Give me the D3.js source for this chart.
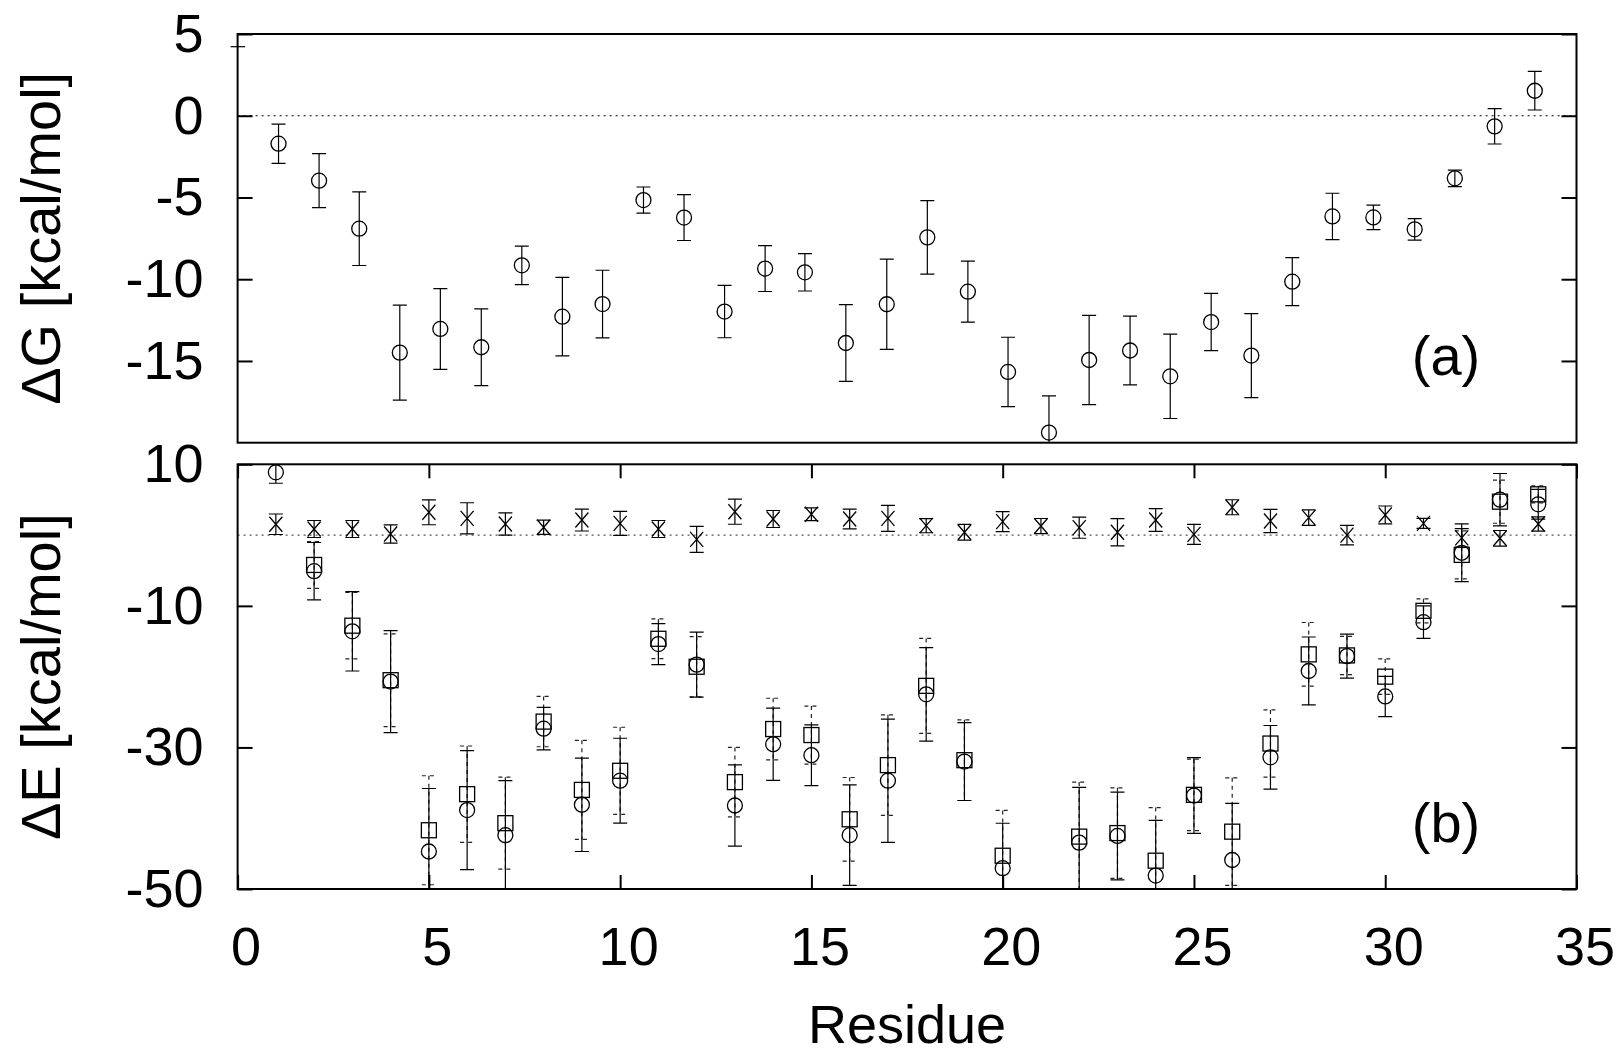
<!DOCTYPE html>
<html>
<head>
<meta charset="utf-8">
<script src="https://cdn.jsdelivr.net/npm/d3@7"></script>
<style>
	body { margin: 0; background: #fff }
	svg { display: block; font-family: 'Liberation Sans', Arial, sans-serif }
</style>
</head>
<body>
<svg id="fig" width="1621" height="1056"></svg>
<script>
// panel (a): dG per residue (x, points are not on integer residues)
const gX = [1.07, 2.13, 3.18, 4.24, 5.30, 6.37, 7.43, 8.49, 9.54, 10.61, 11.67, 12.73, 13.79, 14.83, 15.90, 16.97,
	18.03, 19.09, 20.14, 21.21, 22.26, 23.33, 24.38, 25.45, 26.50, 27.57, 28.62, 29.69, 30.77, 31.82, 32.86, 33.91]
const gVal = [-1.71, -3.97, -6.91, -14.49, -13.04, -14.16, -9.15, -12.29, -11.52, -5.16, -6.23, -11.98, -9.35, -9.58, -13.90, -11.53,
	-7.44, -10.76, -15.67, -19.38, -14.94, -14.36, -15.94, -12.62, -14.67, -10.15, -6.16, -6.22, -6.95, -3.83, -0.65, 1.53]
const gErr = [1.2, 1.65, 2.25, 2.9, 2.47, 2.35, 1.18, 2.4, 2.07, 0.8, 1.4, 1.6, 1.4, 1.14, 2.35, 2.76,
	2.25, 1.87, 2.12, 2.25, 2.73, 2.1, 2.58, 1.75, 2.57, 1.47, 1.42, 0.75, 0.66, 0.5, 1.08, 1.18]

// panel (b): dE per residue, null = no point
const eRes = d3.range(1, 35)
const circVal = [8.87, -5.1, -13.6, -20.7, -44.7, -38.85, -42.4, -27.35, -38.1, -34.7, -15.4, -18.3, -38.2, -29.55, -31.1, -42.4, -34.7,
	-22.5, -32.0, -47.06, null, -43.45, -42.5, -48.1, -36.8, -45.9, -31.4, -19.2, -17.1, -22.8, -12.3, -2.5, 5.0, 4.35]
const circErr = [1.55, 4.05, 5.6, 7.2, 8.9, 8.4, 7.7, 3.0, 6.6, 6.0, 2.9, 4.6, 5.75, 5.1, 4.3, 7.1, 8.7,
	6.6, 5.5, 6.35, null, 7.8, 6.2, 7.8, 5.35, 8.0, 4.5, 4.8, 3.1, 2.85, 2.3, 4.07, 3.7, 2.1]
const sqVal = [null, -4.22, -12.8, -20.5, -41.7, -36.6, -40.7, -26.35, -36.0, -33.3, -14.65, -18.6, -34.9, -27.4, -28.25, -40.15, -32.5,
	-21.3, -31.8, -45.3, null, -42.6, -42.1, -46.0, -36.7, -41.9, -29.45, -16.85, -17.0, -20.0, -10.7, -2.8, 4.72, 5.76]
const sqErr = [null, 3.3, 4.7, 6.55, 7.7, 6.8, 6.5, 3.55, 7.0, 6.15, 2.8, 4.25, 4.9, 4.35, 4.1, 5.9, 7.1,
	6.7, 5.7, 6.4, null, 7.7, 6.4, 7.5, 5.05, 7.6, 4.75, 4.5, 2.7, 2.5, 1.7, 3.4, 3.05, 1.2]
const crossVal = [1.53, 0.86, 0.86, 0.15, 3.22, 2.37, 1.57, 1.1, 2.13, 1.66, 0.86, -0.6, 3.3, 2.27, 2.94, 2.27, 2.37,
	1.33, 0.4, 1.9, 1.28, 1.05, 0.4, 2.13, 0.1, 3.93, 1.99, 2.46, 0.0, 2.84, 1.66, -0.4, -0.45, 1.57]
const crossErr = [1.45, 1.2, 1.2, 1.3, 1.76, 2.2, 1.58, 1.0, 1.55, 1.7, 1.2, 1.83, 1.77, 1.2, 0.9, 1.4, 1.84,
	1.0, 1.1, 1.4, 1.06, 1.5, 1.93, 1.6, 1.4, 1.06, 1.65, 1.1, 1.37, 1.27, 0.7, 1.3, 1.1, 1.0]

const xTicks = [0, 5, 10, 15, 20, 25, 30, 35]
const gTicks = [5, 0, -5, -10, -15]
const eTicks = [10, -10, -30, -50]

const svg = d3.select('#fig')
const FS = 54
const plain = d => String(d) // keep the ascii hyphen like the original, not d3's unicode minus

const L = 237.6, R = 1576.5
const x = d3.scaleLinear([0, 35], [L, R])
const ya = d3.scaleLinear([-20, 5], [442.7, 34])
const yb = d3.scaleLinear([-50, 10], [889, 464.3])

// clip paths so bars stop at the frame
const defs = svg.append('defs')
const clip = (id, y) => defs.append('clipPath').attr('id', id)
	.append('rect').attr('x', L).attr('y', y.range()[1]).attr('width', R - L).attr('height', y.range()[0] - y.range()[1])
clip('ca', ya)
clip('cb', yb)

const zipPts = (xs, vs, es) => xs.map((xx, i) => ({ x: xx, v: vs[i], e: es[i] })).filter(d => d.v !== null)

function errbars(g, pts, y, style) {
	const s = g.append('g').attr('stroke', style.color || '#000').attr('stroke-width', 1.2).attr('fill', 'none')
	if (style.dash) s.attr('stroke-dasharray', style.dash)
	const hw = 7
	s.selectAll('path').data(pts).join('path')
		.attr('d', d => {
			const cx = x(d.x), t = y(d.v + d.e), b = y(d.v - d.e)
			return `M${cx},${t}V${b}M${cx - hw},${t}H${cx + hw}M${cx - hw},${b}H${cx + hw}`
		})
}

const circles = (g, pts, y) => g.append('g').selectAll('circle').data(pts).join('circle')
	.attr('cx', d => x(d.x)).attr('cy', d => y(d.v)).attr('r', 7.5)
	.attr('fill', 'none').attr('stroke', '#000').attr('stroke-width', 1.3)

const squares = (g, pts, y) => g.append('g').selectAll('rect').data(pts).join('rect')
	.attr('x', d => x(d.x) - 7.5).attr('y', d => y(d.v) - 7.5).attr('width', 15).attr('height', 15)
	.attr('fill', 'none').attr('stroke', '#000').attr('stroke-width', 1.3)

const crosses = (g, pts, y) => g.append('g').selectAll('path').data(pts).join('path')
	.attr('d', d => {
		const cx = x(d.x), cy = y(d.v)
		return `M${cx - 6.5},${cy - 7.5}L${cx + 6.5},${cy + 7.5}M${cx - 6.5},${cy + 7.5}L${cx + 6.5},${cy - 7.5}`
	})
	.attr('fill', 'none').attr('stroke', '#000').attr('stroke-width', 1.3)

function zeroLine(y, color) {
	svg.append('line')
		.attr('x1', x(0)).attr('x2', x(35)).attr('y1', y(0)).attr('y2', y(0))
		.attr('stroke', color).attr('stroke-width', 1.2).attr('stroke-dasharray', '2,4')
}

function yAxes(y, ticks) {
	const left = svg.append('g').attr('transform', `translate(${L},0)`)
		.call(d3.axisLeft(y).tickValues(ticks).tickSize(-15).tickPadding(34).tickFormat(plain))
	left.select('.domain').remove()
	left.selectAll('line').attr('stroke-width', 2)
	left.selectAll('text').attr('font-size', FS).attr('fill', '#000')
	const right = svg.append('g').attr('transform', `translate(${R},0)`)
		.call(d3.axisRight(y).tickValues(ticks).tickSize(-15).tickFormat(''))
	right.select('.domain').remove()
	right.selectAll('line').attr('stroke-width', 2)
	return left
}

function frame(y) {
	svg.append('rect')
		.attr('x', L).attr('y', y.range()[1]).attr('width', R - L).attr('height', y.range()[0] - y.range()[1])
		.attr('fill', 'none').attr('stroke', '#000').attr('stroke-width', 2)
}

/* panel (a) */
zeroLine(ya, '#000')
const ga = svg.append('g').attr('clip-path', 'url(#ca)')
const gPts = zipPts(gX, gVal, gErr)
errbars(ga, gPts, ya, {})
circles(ga, gPts, ya)
yAxes(ya, gTicks)
// stray tick the original draws a bit below the "5"
svg.append('line')
	.attr('x1', L - 7).attr('x2', L + 7.5).attr('y1', ya(5) + 12.7).attr('y2', ya(5) + 12.7)
	.attr('stroke', '#000').attr('stroke-width', 1.2)
frame(ya)

/* panel (b) */
zeroLine(yb, '#555')
const gb = svg.append('g').attr('clip-path', 'url(#cb)')
const sqPts = zipPts(eRes, sqVal, sqErr)
const ciPts = zipPts(eRes, circVal, circErr)
const crPts = zipPts(eRes, crossVal, crossErr)
errbars(gb, sqPts, yb, { dash: '4,4', color: '#222' })
errbars(gb, ciPts, yb, {})
errbars(gb, crPts, yb, {})
squares(gb, sqPts, yb)
circles(gb, ciPts, yb)
crosses(gb, crPts, yb)
yAxes(yb, eTicks)

const xb = svg.append('g').attr('transform', `translate(0,${yb.range()[0]})`)
	.call(d3.axisBottom(x).tickValues(xTicks).tickSize(-14).tickPadding(38).tickFormat(plain))
xb.select('.domain').remove()
xb.selectAll('line').attr('stroke-width', 2)
xb.selectAll('text').attr('font-size', FS).attr('fill', '#000').attr('dx', 8)
const xt = svg.append('g').attr('transform', `translate(0,${yb.range()[1]})`)
	.call(d3.axisTop(x).tickValues(xTicks).tickSize(-14).tickFormat(''))
xt.select('.domain').remove()
xt.selectAll('line').attr('stroke-width', 2)
frame(yb)

/* labels */
const lab = (txt, tx, ty, rot, size) => svg.append('text')
	.attr('transform', `translate(${tx},${ty})` + (rot ? ` rotate(${rot})` : ''))
	.attr('text-anchor', 'middle').attr('font-size', size).attr('fill', '#000').text(txt)

lab('ΔG [kcal/mol]', 60, (ya.range()[0] + ya.range()[1]) / 2, -90, 56)
lab('ΔE [kcal/mol]', 60, (yb.range()[0] + yb.range()[1]) / 2, -90, 56)
lab('Residue', (L + R) / 2, 1043, 0, 54)
lab('(a)', 1446, 375, 0, 56)
lab('(b)', 1446, 842, 0, 56)
</script>
</body>
</html>
